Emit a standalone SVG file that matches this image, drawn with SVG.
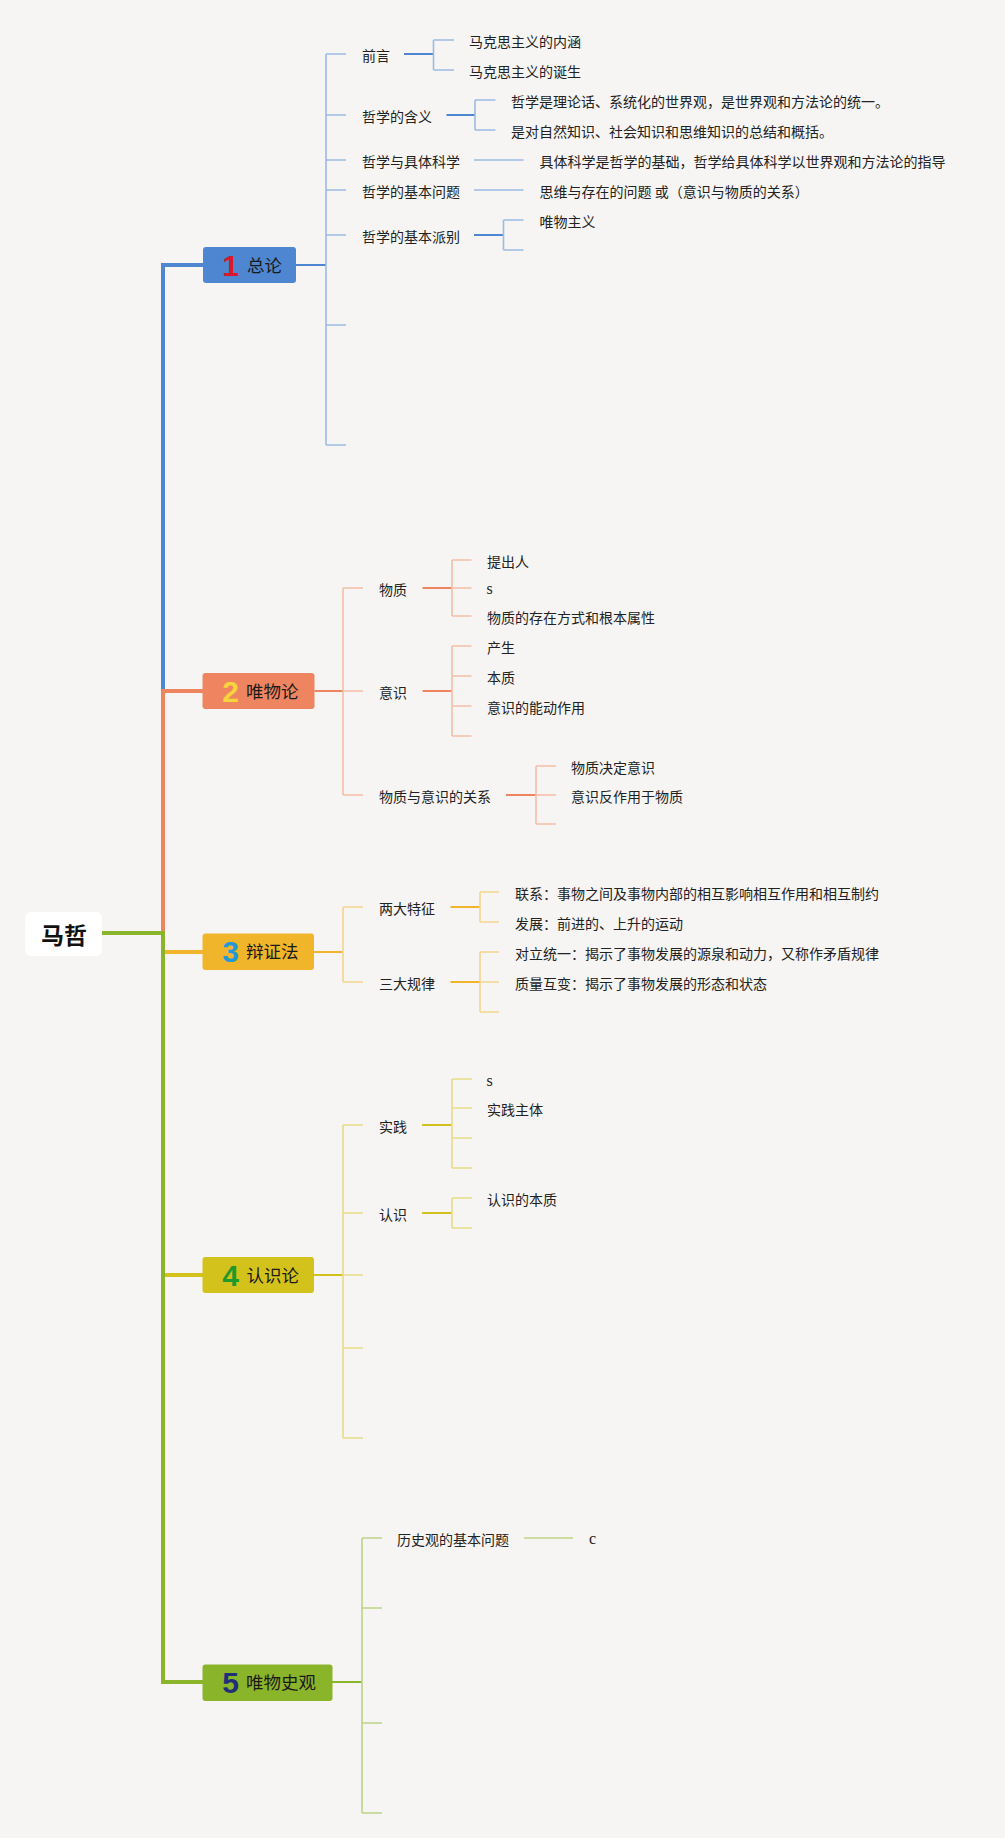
<svg xmlns="http://www.w3.org/2000/svg" width="1005" height="1838" viewBox="0 0 1005 1838">
<style>
.t{font-family:"Noto Sans CJK SC","Noto Sans",sans-serif;font-size:14px;fill:#222}
.s{font-family:"Liberation Serif",serif;font-size:16px;fill:#222}
.bt{font-family:"Noto Sans CJK SC","Noto Sans",sans-serif;font-size:17.5px;fill:#1a1a1a}
.num{font-family:"Liberation Sans",Arial,sans-serif;font-weight:bold;font-size:30px;text-anchor:middle}
.root{font-family:"Noto Sans CJK SC",sans-serif;font-weight:bold;font-size:23px;fill:#111;text-anchor:middle}
path{fill:none}
.trunk{stroke-width:4}
.c1{stroke:#4f86d1;stroke-width:2}.l1{stroke:#9dbbe5;stroke-width:1.6}
.c2{stroke:#ef8560;stroke-width:2}.l2{stroke:#f5bea8;stroke-width:1.6}
.c3{stroke:#f0b52a;stroke-width:2}.l3{stroke:#f3d58f;stroke-width:1.6}
.c4{stroke:#d4c21c;stroke-width:2}.l4{stroke:#e6dc85;stroke-width:1.6}
.c5{stroke:#8ab42a;stroke-width:2}.l5{stroke:#bcd486;stroke-width:1.6}
</style>
<rect width="1005" height="1838" fill="#f6f5f3"/>
<g id="connectors">
<path class="trunk" stroke="#4f86d1" d="M163,933V265H203"/>
<path class="trunk" stroke="#ef8560" d="M163,933V691H203"/>
<path class="trunk" stroke="#f0b52a" d="M163,933V952H203"/>
<path class="trunk" stroke="#d4c21c" d="M163,933V1275H203"/>
<path class="trunk" stroke="#8ab42a" d="M163,933V1682H203"/>
<path class="trunk" stroke="#8ab42a" d="M102,933H165"/>
<!-- branch 1 -->
<path class="c1" d="M296,265H326"/>
<path class="l1" d="M326,54V445M326,54H346M326,115H346M326,160H346M326,190H346M326,235H346M326,325H346M326,445H346"/>
<path class="c1" d="M404,54H433.5M446.5,115H475M474,235H503.5"/>
<path class="l1" d="M433.5,40V70M433.5,40H454M433.5,70H454M475,100V130M475,100H495.5M475,130H495.5M474,160H523.5M474,190H523.5M503.5,220V250M503.5,220H523.5M503.5,250H523.5"/>
<!-- branch 2 -->
<path class="c2" d="M314.5,691H343"/>
<path class="l2" d="M343,588V795M343,588H363M343,691H363M343,795H363"/>
<path class="c2" d="M422.5,588H452M422.5,691H452M506,795H536"/>
<path class="l2" d="M452,560V616M452,560H471.5M452,588H471.5M452,616H471.5M452,646V736M452,646H471.5M452,676H471.5M452,706H471.5M452,736H471.5M536,766V824M536,766H556M536,795H556M536,824H556"/>
<!-- branch 3 -->
<path class="c3" d="M314,952H343"/>
<path class="l3" d="M343,907V982M343,907H363M343,982H363"/>
<path class="c3" d="M450.5,907H480M450.5,982H480"/>
<path class="l3" d="M480,892V922M480,892H499M480,922H499M480,952V1012M480,952H499M480,982H499M480,1012H499"/>
<!-- branch 4 -->
<path class="c4" d="M314,1275H343"/>
<path class="l4" d="M343,1125V1438M343,1125H363M343,1213H363M343,1275H363M343,1348H363M343,1438H363"/>
<path class="c4" d="M422,1125H452M422,1213H452"/>
<path class="l4" d="M452,1079V1168M452,1079H472M452,1108H472M452,1138H472M452,1168H472M452,1198V1228M452,1198H472M452,1228H472"/>
<!-- branch 5 -->
<path class="c5" d="M332,1682H362"/>
<path class="l5" d="M362,1538V1813M362,1538H382M362,1608H382M362,1723H382M362,1813H382"/>
<path class="l5" d="M524,1538H573"/>
</g>
<g id="root"><rect x="25" y="912" width="77" height="44" rx="6" fill="#fff"/><text class="root" x="64" y="944">马哲</text></g>
<g id="b1"><rect x="203" y="247" width="93" height="36" rx="3" fill="#4f86d1"/><text class="num" x="230.5" y="276" fill="#d9182d">1</text><text class="bt" x="247" y="272">总论</text></g>
<g id="b2"><rect x="202.5" y="673" width="112" height="36" rx="3" fill="#ef8560"/><text class="num" x="230.5" y="702" fill="#f7d43c">2</text><text class="bt" x="246" y="698">唯物论</text></g>
<g id="b3"><rect x="202.5" y="933.5" width="111.5" height="36.5" rx="3" fill="#f0b52a"/><text class="num" x="230.5" y="962" fill="#2299d6">3</text><text class="bt" x="246" y="958">辩证法</text></g>
<g id="b4"><rect x="202.5" y="1257" width="111.5" height="36" rx="3" fill="#d4c21c"/><text class="num" x="230.5" y="1286" fill="#1e9a2c">4</text><text class="bt" x="246.5" y="1282">认识论</text></g>
<g id="b5"><rect x="202.5" y="1664.5" width="130" height="36.5" rx="3" fill="#8ab42a"/><text class="num" x="230.5" y="1693" fill="#1f2f78">5</text><text class="bt" x="246" y="1689">唯物史观</text></g>
<g id="labels1">
<text class="t" x="362" y="61">前言</text>
<text class="t" x="362" y="122">哲学的含义</text>
<text class="t" x="362" y="167">哲学与具体科学</text>
<text class="t" x="362" y="197">哲学的基本问题</text>
<text class="t" x="362" y="242">哲学的基本派别</text>
<text class="t" x="469" y="47">马克思主义的内涵</text>
<text class="t" x="469" y="77">马克思主义的诞生</text>
<text class="t" x="511" y="107">哲学是理论话、系统化的世界观，是世界观和方法论的统一。</text>
<text class="t" x="511" y="137">是对自然知识、社会知识和思维知识的总结和概括。</text>
<text class="t" x="539.5" y="167">具体科学是哲学的基础，哲学给具体科学以世界观和方法论的指导</text>
<text class="t" x="539.5" y="197">思维与存在的问题 或（意识与物质的关系）</text>
<text class="t" x="539.5" y="227">唯物主义</text>
</g>
<g id="labels2">
<text class="t" x="379" y="595">物质</text>
<text class="t" x="379" y="698">意识</text>
<text class="t" x="379" y="802">物质与意识的关系</text>
<text class="t" x="487" y="567">提出人</text>
<text class="s" x="486.5" y="594">s</text>
<text class="t" x="487" y="623">物质的存在方式和根本属性</text>
<text class="t" x="487" y="653">产生</text>
<text class="t" x="487" y="683">本质</text>
<text class="t" x="487" y="713">意识的能动作用</text>
<text class="t" x="571" y="773">物质决定意识</text>
<text class="t" x="571" y="802">意识反作用于物质</text>
</g>
<g id="labels3">
<text class="t" x="379" y="914">两大特征</text>
<text class="t" x="379" y="989">三大规律</text>
<text class="t" x="515" y="899">联系：事物之间及事物内部的相互影响相互作用和相互制约</text>
<text class="t" x="515" y="929">发展：前进的、上升的运动</text>
<text class="t" x="515" y="959">对立统一：揭示了事物发展的源泉和动力，又称作矛盾规律</text>
<text class="t" x="515" y="989">质量互变：揭示了事物发展的形态和状态</text>
</g>
<g id="labels4">
<text class="t" x="379" y="1132">实践</text>
<text class="t" x="379" y="1220">认识</text>
<text class="s" x="486.5" y="1086">s</text>
<text class="t" x="487" y="1115">实践主体</text>
<text class="t" x="487" y="1205">认识的本质</text>
</g>
<g id="labels5">
<text class="t" x="397" y="1545">历史观的基本问题</text>
<text class="s" x="589" y="1544">c</text>
</g>
</svg>
